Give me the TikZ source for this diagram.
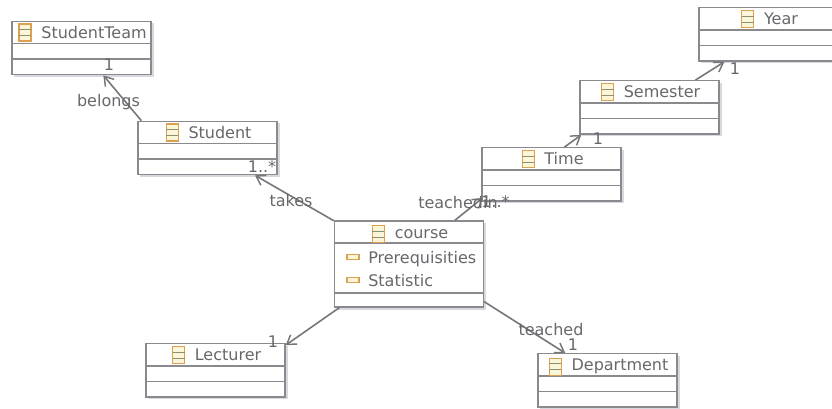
\documentclass[tikz,border=0pt]{standalone}
\usepackage{fontspec}
\setmainfont{DejaVu Sans}
\usetikzlibrary{arrows.meta}
\definecolor{umlline}{HTML}{8A8A8E}
\definecolor{assocline}{HTML}{77777B}
\definecolor{umlshadow}{HTML}{D8D8DE}
\definecolor{umltext}{HTML}{68686C}
\definecolor{iconedge}{HTML}{DDA050}
\definecolor{iconfill}{HTML}{FBF6D8}
\definecolor{iconbar}{HTML}{8C9070}
\tikzset{
  umlbox/.style={draw=umlline,line width=1pt,fill=white,inner sep=0pt,minimum width=104.25pt,minimum height=40pt},
  umlsep/.style={draw=umlline,line width=0.9pt},
  umltitle/.style={text=umltext,font=\fontsize{12}{14}\selectfont,inner sep=0pt,anchor=base},
  umllabel/.style={text=umltext,font=\fontsize{12}{14}\selectfont,inner sep=0pt},
  assoc/.style={draw=assocline,line width=1.2pt,-{Straight Barb[length=6.5pt,width=8.5pt,line width=1.1pt]}},
  classicon/.style={draw=iconedge,line width=0.9pt,fill=iconfill},
  attricon/.style={draw=iconedge,line width=0.9pt,fill=iconfill}
}
\newcommand{\iconat}[1]{%
  \draw[classicon] ([xshift=-16.5pt,yshift=-6.4pt]#1) rectangle ([xshift=-7.5pt,yshift=6.4pt]#1);
  \draw[iconbar,line width=0.6pt] ([xshift=-16.5pt,yshift=-2.2pt]#1) -- ([xshift=-7.5pt,yshift=-2.2pt]#1);
  \draw[iconbar,line width=0.6pt] ([xshift=-16.5pt,yshift=2.2pt]#1) -- ([xshift=-7.5pt,yshift=2.2pt]#1);
}
% name, centre x, centre y, title
\newcommand{\umlclass}[4]{%
  \fill[umlshadow] (#2-67.5,#3-24.5) rectangle (#2+72,#3+29);
  \node[umlbox] (#1) at (#2,#3) {};
  \draw[umlsep] (#2-69.5,#3-4.5) -- (#2+69.5,#3-4.5);
  \draw[umlsep] (#2-69.5,#3+11) -- (#2+69.5,#3+11);
  \node[umltitle] (#1t) at (#2+12.5,#3-9.5) {#4};
  \iconat{#1t.west}%
}
\begin{document}
\begin{tikzpicture}[x=0.75pt,y=-0.75pt]
\clip (0,0) rectangle (832,409);
\fill[white] (0,0) rectangle (832,409);
\umlclass{team}{81.5}{48}{StudentTeam}
\umlclass{stud}{207.5}{148}{Student}
\umlclass{time}{551.5}{174.5}{Time}
\umlclass{sem}{649.5}{107.5}{Semester}
\umlclass{year}{768.5}{34.5}{Year}
\umlclass{lect}{215.5}{370.5}{Lecturer}
\umlclass{dept}{607.5}{380.5}{Department}
% course (taller box with two attributes)
\fill[umlshadow] (337,223) rectangle (486,310);
\node[umlbox,minimum width=111.75pt,minimum height=64.5pt] (course) at (409,264) {};
\draw[umlsep] (334.5,243) -- (483.5,243);
\draw[umlsep] (334.5,293) -- (483.5,293);
\node[umltitle] (courset) at (421.5,238.5) {course};
\iconat{courset.west}
\node[umltitle,anchor=base west] (attra) at (368,264) {Prerequisities};
\node[umltitle,anchor=base west] (attrb) at (368,287) {Statistic};
\draw[attricon] (347,254.5) rectangle (359,259.5);
\draw[attricon] (347,277.5) rectangle (359,282.5);
% associations
\draw[assoc] ([xshift=3pt]stud.north west) -- ([xshift=69pt]team.south west);
\draw[assoc] (course) -- (stud);
\draw[assoc] ([xshift=90.75pt]course.north west) -- ([xshift=1.1pt,yshift=3pt]time.south west);
\draw[assoc] ([xshift=62.25pt]time.north west) -- ([xshift=1.5pt]sem.south west);
\draw[assoc] ([xshift=87pt]sem.north west) -- ([xshift=19.5pt]year.south west);
\draw[assoc] ([xshift=4.1pt]course.south west) -- ([yshift=-1.5pt]lect.north east);
\draw[assoc] ([yshift=4.5pt]course.south east) -- ([xshift=21pt]dept.north west);
% labels
\node[umllabel] (l1) at (109,65) {1};
\node[umllabel] (l2) at (108.5,102) {belongs};
\node[umllabel] (l3) at (262,167) {1..*};
\node[umllabel] (l4) at (291,201) {takes};
\node[umllabel,anchor=west] (l5) at (418,202.5) {teachedin};
\node[umllabel,anchor=west] (l6) at (481,202) {1..*};
\node[umllabel] (l7) at (598,139) {1};
\node[umllabel] (l8) at (735,69) {1};
\node[umllabel] (l9) at (273,342) {1};
\node[umllabel] (l10) at (551,330) {teached};
\node[umllabel] (l11) at (573,345) {1};
\end{tikzpicture}
\end{document}
